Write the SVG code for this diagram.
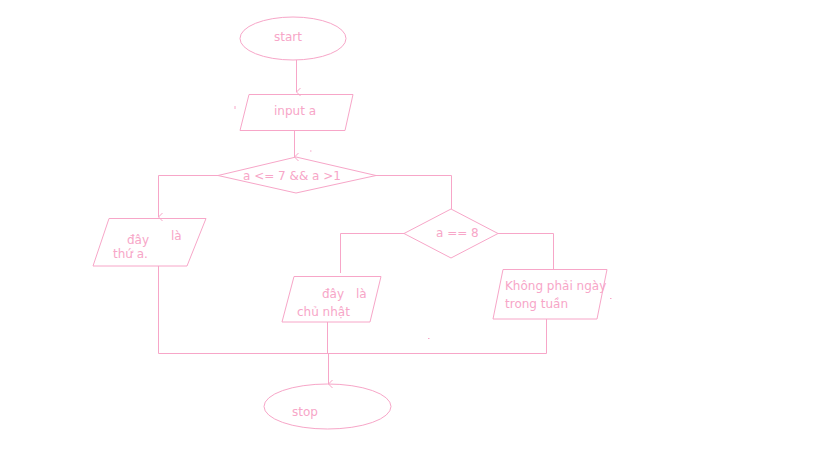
<svg xmlns="http://www.w3.org/2000/svg" width="819" height="460" viewBox="0 0 819 460">
<style>
.s{fill:none;stroke:#f7a6c8;stroke-width:1}
.t{font-family:"DejaVu Sans",sans-serif;font-size:12px;fill:#f7a6c8}
</style>
<defs>
<marker id="a" markerWidth="10" markerHeight="8" refX="5" refY="5" orient="auto" markerUnits="userSpaceOnUse" viewBox="0 0 10 8">
<path d="M1,1 L5,5 L9,1" fill="none" stroke="#f7a6c8" stroke-width="1"/>
</marker>
</defs>
<rect width="819" height="460" fill="#fff"/>
<g id="connectors" class="s">
<path d="M296.5,60 V92" marker-end="url(#a)"/>
<path d="M294.5,130 V157" marker-end="url(#a)"/>
<path d="M218,175.5 H158.5 V217" marker-end="url(#a)"/>
<path d="M376,175.5 H451.5 V209"/>
<path d="M404,233.5 H340.5 V273"/>
<path d="M498,233.5 H553.5 V269"/>
<path d="M158.5,266 V353.5 H546.5 V319"/>
<path d="M327.5,322 V353"/>
<path d="M328.5,353 V384" marker-end="url(#a)"/>
</g>
<g id="start">
<ellipse class="s" cx="293" cy="38.5" rx="53" ry="21.5"/>
<text class="t" x="274" y="41">start</text>
</g>
<g id="input">
<polygon class="s" points="249,94.5 353,94.5 345,130.5 240,130.5"/>
<text class="t" x="274" y="115">input a</text>
</g>
<g id="cond1">
<polygon class="s" points="296,157 376,175.5 296,193 218,175.5"/>
<text class="t" x="243" y="180">a &lt;= 7 &amp;&amp; a &gt;1</text>
</g>
<g id="out1">
<polygon class="s" points="109,218.5 206,218.5 187,266 93,266"/>
<text class="t" x="127" y="244">đây</text>
<text class="t" x="171" y="240">là</text>
<text class="t" x="113" y="258">thứ a.</text>
</g>
<g id="cond2">
<polygon class="s" points="451,209 498,233.5 451,258 404,233.5"/>
<text class="t" x="436" y="237">a == 8</text>
</g>
<g id="out2">
<polygon class="s" points="294,276.5 381,276.5 370,322 282,322"/>
<text class="t" x="322" y="298">đây</text>
<text class="t" x="356" y="298">là</text>
<text class="t" x="297" y="316">chủ nhật</text>
</g>
<g id="out3">
<polygon class="s" points="503,269.5 607,269.5 597,319 493,319"/>
<text class="t" x="505" y="290">Không phải ngày</text>
<text class="t" x="505" y="308">trong tuần</text>
</g>
<g id="stop">
<ellipse class="s" cx="327.5" cy="406.5" rx="63.5" ry="22.5"/>
<text class="t" x="292" y="416">stop</text>
</g>
<g class="s">
<path d="M235,106 V109"/>
<path d="M310,151 h1.5"/>
<path d="M610,298.5 h1.5"/>
<path d="M428,338.5 h1.5"/>
</g>
</svg>
